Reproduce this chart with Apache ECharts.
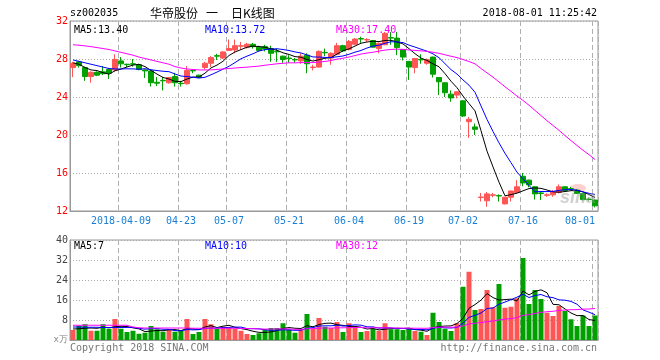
<!DOCTYPE html>
<html><head><meta charset="utf-8">
<script src="https://cdn.jsdelivr.net/npm/echarts@6/dist/echarts.min.js"></script>
<style>html,body{margin:0;padding:0;background:#fff}#c{width:660px;height:360px}</style>
</head><body><div id="c"></div><script>
// ---------- data ----------
const dates = [
"2018-03-26","2018-03-27","2018-03-28","2018-03-29","2018-03-30","2018-04-02","2018-04-03","2018-04-04",
"2018-04-09","2018-04-10","2018-04-11","2018-04-12","2018-04-13",
"2018-04-16","2018-04-17","2018-04-18","2018-04-19","2018-04-20",
"2018-04-23","2018-04-24","2018-04-25","2018-04-26","2018-04-27",
"2018-05-02","2018-05-03","2018-05-04",
"2018-05-07","2018-05-08","2018-05-09","2018-05-10","2018-05-11",
"2018-05-14","2018-05-15","2018-05-16","2018-05-17","2018-05-18",
"2018-05-21","2018-05-22","2018-05-23","2018-05-24","2018-05-25",
"2018-05-28","2018-05-29","2018-05-30","2018-05-31","2018-06-01",
"2018-06-04","2018-06-05","2018-06-06","2018-06-07","2018-06-08",
"2018-06-11","2018-06-12","2018-06-13","2018-06-14","2018-06-15",
"2018-06-19","2018-06-20","2018-06-21","2018-06-22",
"2018-06-25","2018-06-26","2018-06-27","2018-06-28","2018-06-29",
"2018-07-02","2018-07-03","2018-07-04","2018-07-05","2018-07-06",
"2018-07-09","2018-07-10","2018-07-11","2018-07-12","2018-07-13",
"2018-07-16","2018-07-17","2018-07-18","2018-07-19","2018-07-20",
"2018-07-23","2018-07-24","2018-07-25","2018-07-26","2018-07-27",
"2018-07-30","2018-07-31","2018-08-01"];

const opens = [27.1,27.7,27.1,26.15,26.6,26.65,26.9,26.85,27.8,27.45,
27.5,27.4,26.85,26.75,25.55,25.75,25.5,26.15,25.45,25.4,
26.8,26.3,27.1,27.55,28.35,28.1,28.9,28.95,29.35,29.25,
29.55,29.25,29.3,29.1,28.8,28.3,28.1,27.95,27.8,28.4,
27.1,27.15,28.7,28.1,28.5,29.4,29.0,29.55,30.15,30.0,
29.95,29.1,29.5,30.25,30.2,29.0,27.75,27.1,27.95,27.55,
28.2,26.05,25.5,24.3,24.2,23.6,21.4,20.85,13.43,13.08,
13.65,13.62,12.75,13.45,13.95,15.65,15.25,14.55,13.9,13.65,
13.7,13.95,14.55,14.35,14.2,13.85,13.25,13.15];
const closes = [27.55,27.3,26.15,26.6,26.3,26.45,26.5,27.95,27.5,27.4,
27.45,26.9,26.75,25.5,25.45,25.7,26.05,25.5,25.4,26.8,
26.75,26.05,27.55,28.15,28.3,28.75,29.1,29.4,29.4,29.55,
29.3,28.9,29.05,28.6,28.75,27.95,28.05,27.9,28.3,27.5,
27.15,28.8,28.65,28.6,29.4,28.85,29.85,30.1,30.1,30.05,
29.25,29.65,30.7,30.2,29.2,28.2,27.15,28.05,27.9,27.95,
26.4,25.6,24.45,23.9,24.55,22.0,21.65,20.6,13.47,13.8,
13.7,13.58,13.45,14.1,14.55,14.95,14.75,13.8,13.85,13.7,
14.0,14.55,14.15,14.3,13.85,13.2,13.2,12.55];
const lows = [26.1,27.1,25.7,25.5,26.2,26.3,25.9,26.7,27.1,27.15,
27.2,26.8,26.0,25.1,25.15,24.7,25.4,25.1,25.1,25.3,
26.5,26.0,26.9,27.15,27.9,28.0,28.85,28.6,29.0,29.1,
29.1,28.8,28.8,27.7,27.7,27.6,27.6,27.6,27.5,26.5,
26.8,27.1,28.3,27.4,28.4,28.75,28.9,29.45,29.7,29.8,
29.2,28.6,29.45,29.5,28.4,27.85,25.8,26.5,27.5,27.4,
26.05,24.2,24.0,23.5,23.85,21.9,19.7,20.0,13.0,12.45,
13.45,13.0,12.7,13.0,13.9,14.6,14.5,13.2,13.15,13.5,
13.5,13.85,14.1,14.2,13.8,13.1,13.1,12.38];
const highs = [27.7,27.8,27.2,26.7,26.7,27.25,27.0,28.5,28.2,27.5,
28.0,27.5,26.9,26.8,26.1,26.1,26.1,26.55,25.7,27.25,
26.9,26.35,27.7,28.3,28.55,28.8,30.05,30.05,29.8,29.7,
29.7,29.4,29.5,29.4,29.1,28.35,28.4,28.1,28.6,28.6,
27.4,28.9,29.1,28.7,29.7,29.5,30.0,30.2,30.35,30.2,
30.0,29.75,30.85,30.85,30.85,29.05,27.8,28.1,28.5,28.05,
28.25,26.1,25.55,24.7,24.6,23.65,21.9,21.2,13.9,14.0,
13.9,13.75,13.5,14.15,15.25,16.0,15.3,14.6,14.0,13.85,
14.2,14.8,14.6,14.55,14.3,13.9,13.4,13.2];
// volume (10k lots)
const volumes = [4.0,5.7,6.3,3.7,3.7,6.3,4.5,8.4,4.5,3.2,
3.7,2.5,2.9,5.6,4.3,3.3,4.3,3.3,3.6,8.4,
2.4,3.2,8.4,6.3,4.5,5.3,4.9,4.5,3.7,2.4,
2.0,2.7,4.3,4.8,4.8,6.7,4.3,2.9,4.3,10.4,
4.5,8.8,5.3,4.8,7.2,3.2,6.7,5.3,3.2,3.6,
4.4,3.7,6.7,4.3,4.3,4.0,4.5,3.6,3.3,2.0,
10.9,7.2,4.5,3.6,6.7,21.3,27.3,12.0,12.4,20.0,
13.1,22.4,12.9,13.3,16.7,32.8,14.4,20.0,16.4,10.9,
9.6,13.6,11.6,8.3,5.6,9.8,5.6,9.8];

// moving-average values for the first days (history before the window)
const ma5Early = [27.6,27.45,27.1,26.85];
const ma10Early = [27.9,27.75,27.6,27.45,27.3,27.15,27.0,26.95,26.95];
const ma30Early = [29.5,29.45,29.38,29.3,29.2,29.1,29.0,28.85,28.7,28.55,
28.4,28.2,28.05,27.9,27.75,27.6,27.45,27.2,27.05,26.95,
26.9,26.85,26.85,26.85,26.9,26.95,27.0,27.05,27.1];
const volMa5Early = [4.4,4.5,4.7,4.8];
const volMa10Early = [5.2,5.2,5.1,5.1,5.1,5.0,5.0,5.0,5.0];
const volMa30Early = [5.9,5.9,5.9,5.9,5.9,5.9,5.9,5.9,5.9,5.9,
5.2,4.9,4.8,4.8,4.8,4.8,4.8,4.8,4.8,4.8,
4.7,4.7,4.7,4.7,4.7,4.7,4.7,4.7,4.6];

const tickDates = ["2018-04-09","2018-04-23","2018-05-07","2018-05-21","2018-06-04","2018-06-19","2018-07-02","2018-07-16","2018-08-01"];
const tickLabels = ["2018-04-09","04-23","05-07","05-21","06-04","06-19","07-02","07-16","08-01"];
const priceAxis = {min:12, max:32, interval:4};
const volAxis = {min:0, max:40, interval:8};

const headerCode = "sz002035";
const headerName = "华帝股份";
const headerDash = "一";
const headerKind = "日K线图";
const headerTime = "2018-08-01 11:25:42";
const priceMaText = ["MA5:13.40","MA10:13.72","MA30:17.40"];
const volMaText = ["MA5:7","MA10:10","MA30:12"];
const copyright = "Copyright 2018 SINA.COM";
const siteUrl = "http://finance.sina.com.cn";
const volUnit = "x万";

// ---------- helpers ----------
function movingAvg(values, n, early){
  return values.map((v,i)=>{
    if(i < n-1) return early[i];
    let s = 0; for(let k=i-n+1;k<=i;k++) s += values[k];
    return +(s/n).toFixed(3);
  });
}
const RED = '#ff5555', GREEN = '#00a000';
const MONO = '"DejaVu Sans Mono", monospace';
const tickIdx = tickDates.map(d=>dates.indexOf(d));
const isTick = (i)=> tickIdx.indexOf(i) >= 0;

const kData = dates.map((d,i)=>[opens[i], closes[i], lows[i], highs[i]]);
const volData = volumes.map((v,i)=>({value:v, itemStyle:{color: closes[i] >= opens[i] ? RED : GREEN}}));

const chart = echarts.init(document.getElementById('c'), null, {renderer:'canvas', width:660, height:360});

function xAx(grid, showLabel){
  return {
    type:'category', data:dates, gridIndex:grid, boundaryGap:true,
    axisLine:{show:true, lineStyle:{color:'#999', width:1}},
    axisTick:{show:false},
    axisLabel:{show:showLabel, interval:(i)=>isTick(i), formatter:(v)=>tickLabels[tickDates.indexOf(v)] || '',
      color:'#1a7fd4', fontFamily:MONO, fontSize:10, margin:5, showMaxLabel:true, alignMaxLabel:'right'},
    splitLine:{show:true, interval:(i)=>isTick(i), lineStyle:{color:'#b0b0b0', type:[5,3], width:1}}
  };
}
function yAx(grid, cfg, color, fmt){
  return {
    type:'value', gridIndex:grid, min:cfg.min, max:cfg.max, interval:cfg.interval, position:'left',
    axisLine:{show:true, lineStyle:{color:'#999', width:1}},
    axisTick:{show:false},
    axisLabel:{color:color, fontFamily:MONO, fontSize:10, margin:2, formatter:fmt},
    splitLine:{show:true, lineStyle:{color:'#aaa', type:[1,2], width:1}}
  };
}
function maLine(name, data, color, xi, yi){
  return {name, type:'line', data, xAxisIndex:xi, yAxisIndex:yi, showSymbol:false, symbol:'none',
    lineStyle:{color, width:1}, itemStyle:{color}, z:5, silent:true};
}
function txt(text, x, y, fill, font, align){
  return {type:'text', x, y, silent:true, z:100,
    style:{text, fill, font, textAlign:align||'left', textVerticalAlign:'middle', align:align||'left', verticalAlign:'middle'}};
}

const option = {
  animation:false,
  backgroundColor:'#ffffff',
  grid:[
    {left:70, top:21, width:528, height:190, show:true, borderColor:'#999', borderWidth:1, backgroundColor:'rgba(0,0,0,0)'},
    {left:70, top:240, width:528, height:100, show:true, borderColor:'#999', borderWidth:1, backgroundColor:'rgba(0,0,0,0)'}
  ],
  xAxis:[xAx(0,true), xAx(1,false)],
  yAxis:[
    yAx(0, priceAxis, '#ff0000', (v)=>String(v)),
    yAx(1, volAxis, '#444', (v)=> v===0 ? '' : String(v))
  ],
  series:[
    {type:'candlestick', data:kData, xAxisIndex:0, yAxisIndex:0, barWidth:5,
      itemStyle:{color:RED, color0:GREEN, borderColor:RED, borderColor0:GREEN, borderWidth:1}, z:2},
    maLine('MA5', movingAvg(closes,5,ma5Early), '#000000', 0, 0),
    maLine('MA10', movingAvg(closes,10,ma10Early), '#0000ff', 0, 0),
    maLine('MA30', movingAvg(closes,30,ma30Early), '#ff00ff', 0, 0),
    {type:'bar', data:volData, xAxisIndex:1, yAxisIndex:1, barWidth:5, z:2},
    maLine('VMA5', movingAvg(volumes,5,volMa5Early), '#000000', 1, 1),
    maLine('VMA10', movingAvg(volumes,10,volMa10Early), '#0000ff', 1, 1),
    maLine('VMA30', movingAvg(volumes,30,volMa30Early), '#ff00ff', 1, 1)
  ],
  graphic:[
    txt(headerCode, 70, 13, '#000', '10px '+MONO),
    txt(headerName, 150, 13, '#000', '12px "Noto Sans CJK SC"'),
    txt(headerDash, 206, 13, '#000', '12px "Noto Sans CJK SC"'),
    txt(headerKind, 231, 13, '#000', '12px "Noto Sans CJK SC"'),
    txt(headerTime, 597, 13, '#000', '10px '+MONO, 'right'),
    txt(priceMaText[0], 74, 30, '#000000', '10px '+MONO),
    txt(priceMaText[1], 205, 30, '#0000ff', '10px '+MONO),
    txt(priceMaText[2], 336, 30, '#ff00ff', '10px '+MONO),
    txt(volMaText[0], 74, 246, '#000000', '10px '+MONO),
    txt(volMaText[1], 205, 246, '#0000ff', '10px '+MONO),
    txt(volMaText[2], 336, 246, '#ff00ff', '10px '+MONO),
    txt(copyright, 70, 348, '#777', '10px '+MONO),
    txt(siteUrl, 597, 348, '#777', '10px '+MONO, 'right'),
    txt(volUnit, 68, 340, '#888', '9px '+MONO, 'right'),
    {type:'ellipse', shape:{cx:578, cy:188, rx:8, ry:4}, style:{fill:'rgba(255,120,120,0.35)'}, silent:true, z:1},
    txt('sina', 560, 198, 'rgba(150,150,150,0.45)', 'italic bold 18px "Liberation Sans"')
  ]
};
chart.setOption(option);
</script></body></html>
